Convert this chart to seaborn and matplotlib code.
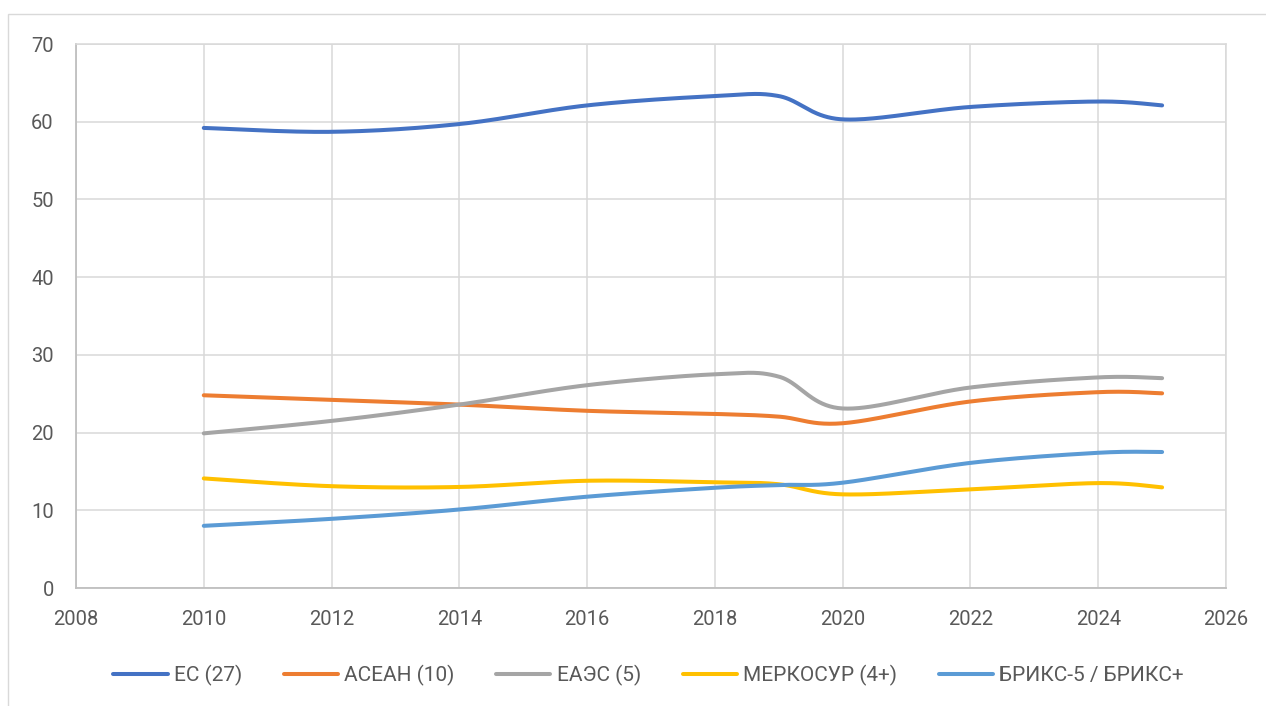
import numpy as np
import pandas as pd
import matplotlib
matplotlib.use("Agg")
import matplotlib.pyplot as plt
import seaborn as sns
from matplotlib.lines import Line2D
from matplotlib.patches import Rectangle

years = [2010, 2012, 2014, 2016, 2018, 2019, 2020, 2022, 2024, 2025]
eu = [59.2, 58.7, 59.7, 62.1, 63.3, 63.3, 60.3, 61.9, 62.6, 62.1]
asean = [24.8, 24.2, 23.6, 22.8, 22.4, 22.05, 21.2, 24.0, 25.2, 25.05]
eaeu = [19.9, 21.5, 23.6, 26.1, 27.5, 27.2, 23.1, 25.8, 27.1, 27.0]
mercosur = [14.1, 13.1, 13.0, 13.8, 13.6, 13.35, 12.05, 12.7, 13.5, 12.95]
brics = [8.0, 8.9, 10.1, 11.75, 12.9, 13.25, 13.55, 16.1, 17.4, 17.5]
series_names = ["ЕС (27)", "АСЕАН (10)", "ЕАЭС (5)", "МЕРКОСУР (4+)", "БРИКС-5 / БРИКС+"]
colors = ["#4472C4", "#ED7D31", "#A5A5A5", "#FFC000", "#5B9BD5"]
x_ticks = list(range(2008, 2027, 2))
y_ticks = list(range(0, 71, 10))


def smooth(xs, ys, n=40):
    # Excel-style smoothed line: Bezier segments with Catmull-Rom control points
    P = np.column_stack([xs, ys]).astype(float)
    out = []
    m = len(P)
    for i in range(m - 1):
        p0 = P[i - 1] if i > 0 else P[i]
        p1 = P[i]
        p2 = P[i + 1]
        p3 = P[i + 2] if i + 2 < m else P[i + 1]
        c1 = p1 + (p2 - p0) / 6.0
        c2 = p2 - (p3 - p1) / 6.0
        t = np.linspace(0, 1, n, endpoint=(i == m - 2))[:, None]
        seg = ((1 - t) ** 3) * p1 + 3 * ((1 - t) ** 2) * t * c1 + 3 * (1 - t) * t ** 2 * c2 + t ** 3 * p2
        out.append(seg)
    out = np.vstack(out)
    return out[:, 0], out[:, 1]


sns.set_theme(style="white")
plt.rcParams["font.family"] = ["Roboto", "DejaVu Sans"]

fig = plt.figure(figsize=(12.66, 7.06), dpi=100)
ax = fig.add_axes([76 / 1266, 1 - 588 / 706, (1226 - 76) / 1266, (588 - 44) / 706])

frames = []
for name, vals in zip(series_names, [eu, asean, eaeu, mercosur, brics]):
    sx, sy = smooth(years, vals)
    frames.append(pd.DataFrame({"x": sx, "y": sy, "series": name, "order": np.arange(len(sx))}))
df = pd.concat(frames, ignore_index=True)

sns.lineplot(data=df, x="x", y="y", hue="series", hue_order=series_names,
             palette=colors, sort=False, estimator=None, linewidth=2.9,
             legend=False, ax=ax)
for ln in ax.lines:
    ln.set_solid_capstyle("round")

ax.set_xlim(2008, 2026)
ax.set_ylim(0, 70)
ax.set_xticks(x_ticks)
ax.set_yticks(y_ticks)
ax.set_xlabel("")
ax.set_ylabel("")
ax.grid(True, color="#D9D9D9", linewidth=1.1)
ax.set_axisbelow(True)
for s in ["top", "right"]:
    ax.spines[s].set_color("#D9D9D9")
    ax.spines[s].set_linewidth(1.1)
for s in ["left", "bottom"]:
    ax.spines[s].set_color("#BFBFBF")
    ax.spines[s].set_linewidth(1.3)
ax.tick_params(axis="both", length=0, labelsize=14.5, colors="#595959")
ax.tick_params(axis="x", pad=16)
ax.tick_params(axis="y", pad=16)

handles = [Line2D([0], [0], color=c, lw=2.9, solid_capstyle="round") for c in colors]
leg = fig.legend(handles, series_names, loc="center", bbox_to_anchor=(648.5 / 1266, 1 - 675 / 706),
                 ncol=5, frameon=False, fontsize=15, handlelength=2.6,
                 handletextpad=0.3, columnspacing=2.0)
for t in leg.get_texts():
    t.set_color("#595959")

fig.patches.append(Rectangle((8 / 1266, -0.05), 1.1, 1 - 14 / 706 + 0.05, transform=fig.transFigure,
                             fill=False, edgecolor="#D9D9D9", linewidth=1.0, clip_on=False))

fig.savefig("out.png", dpi=100, facecolor="white")
